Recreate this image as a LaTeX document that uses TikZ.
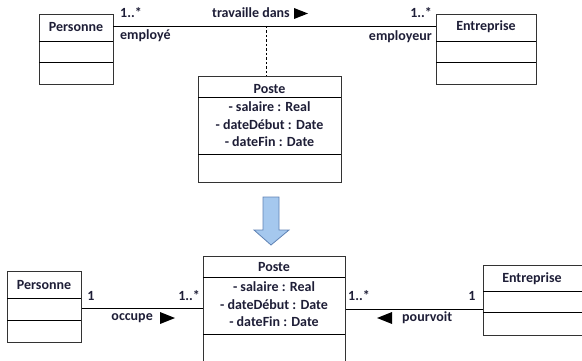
\documentclass[tikz,border=0pt]{standalone}
\usepackage{fontspec}
\setmainfont{Carlito}
\definecolor{arrowfill}{RGB}{165,200,238}
\definecolor{arrowedge}{RGB}{95,130,180}
\definecolor{txtcol}{RGB}{30,30,55}
\begin{document}
\begin{tikzpicture}[x=1pt,y=-1pt,
  txt/.style={font=\fontsize{14}{16}\selectfont\bfseries, text=txtcol, inner sep=0pt},
  cls/.style={draw=black!80, line width=0.9pt, inner sep=0pt, anchor=north west},
  divider/.style={draw=black, line width=0.9pt},
  assoc/.style={draw=black, line width=0.9pt},
  dir/.style={fill=black},
  bigarrow/.style={fill=arrowfill, draw=arrowedge, line width=0.8pt}
]
\useasboundingbox (0,0) rectangle (582,361);
% ---------- top ----------
\node[cls, minimum width=74pt, minimum height=70pt] (p1) at (39,14) {};
\node[txt] (p1t) at (76,27) {Personne};
\draw[divider] (39,41) -- (113,41);
\draw[divider] (39,62) -- (113,62);

\node[cls, minimum width=100pt, minimum height=70pt] (e1) at (436,14) {};
\node[txt] (e1t) at (486,27) {Entreprise};
\draw[divider] (436,41) -- (536,41);
\draw[divider] (436,62) -- (536,62);

\node[cls, minimum width=143pt, minimum height=106pt] (s1) at (198,76) {};
\node[txt] (s1t) at (269.5,89) {Poste};
\node[txt] (s1a) at (269.5,107) {- salaire : Real};
\node[txt] (s1b) at (269.5,125) {- dateDébut : Date};
\node[txt] (s1c) at (269.5,142) {- dateFin : Date};
\draw[divider] (198,97) -- (341,97);
\draw[divider] (198,154) -- (341,154);

\coordinate (a1l) at (113,26);
\coordinate (a1r) at (436,26);
\coordinate (a1m) at (266,26);
\draw[assoc] (a1l) -- (a1r);
\draw[assoc, dashed, dash pattern=on 2.5pt off 2pt] (a1m) -- (266,76);

\node[txt, anchor=west] (m1) at (120,13) {1..*};
\node[txt, anchor=west] (r1) at (120,36) {employé};
\node[txt, anchor=east] (n1) at (290,13) {travaille dans};
\fill[dir] (294,8) -- (308,13.5) -- (294,19) -- cycle;
\node[txt, anchor=east] (m2) at (432,13) {1..*};
\node[txt, anchor=east] (r2) at (432,37) {employeur};

% ---------- arrow ----------
\draw[bigarrow] (263,197) -- (279,197) -- (279,230) -- (289,230) -- (271,245) -- (254,230) -- (263,230) -- cycle;

% ---------- bottom ----------
\node[cls, minimum width=74pt, minimum height=71pt] (p2) at (7,271) {};
\node[txt] (p2t) at (44,285) {Personne};
\draw[divider] (7,298) -- (81,298);
\draw[divider] (7,320) -- (81,320);

\node[cls, minimum width=142pt, minimum height=130pt] (s2) at (203,256) {};
\node[txt] (s2t) at (274,267) {Poste};
\node[txt] (s2a) at (274,287) {- salaire : Real};
\node[txt] (s2b) at (274,305) {- dateDébut : Date};
\node[txt] (s2c) at (274,322) {- dateFin : Date};
\draw[divider] (203,277) -- (345,277);
\draw[divider] (203,334) -- (345,334);

\node[cls, minimum width=120pt, minimum height=70pt] (e2) at (483,265) {};
\node[txt] (e2t) at (532,279) {Entreprise};
\draw[divider] (483,291) -- (600,291);
\draw[divider] (483,312) -- (600,312);

\draw[assoc] (p2.east |- 0,308) -- (s2.west |- 0,308);
\draw[assoc] (s2.east |- 0,309) -- (e2.west |- 0,309);

\node[txt] (q1) at (91,296) {1};
\node[txt, anchor=east] (q2) at (200,296) {1..*};
\node[txt, anchor=east] (o1) at (153,318) {occupe};
\fill[dir] (160,312) -- (175,318) -- (160,324) -- cycle;
\node[txt, anchor=west] (q3) at (348,296) {1..*};
\node[txt] (q4) at (472,296) {1};
\fill[dir] (392,312) -- (377,318) -- (392,324) -- cycle;
\node[txt, anchor=west] (o2) at (402,318) {pourvoit};
\end{tikzpicture}
\end{document}
